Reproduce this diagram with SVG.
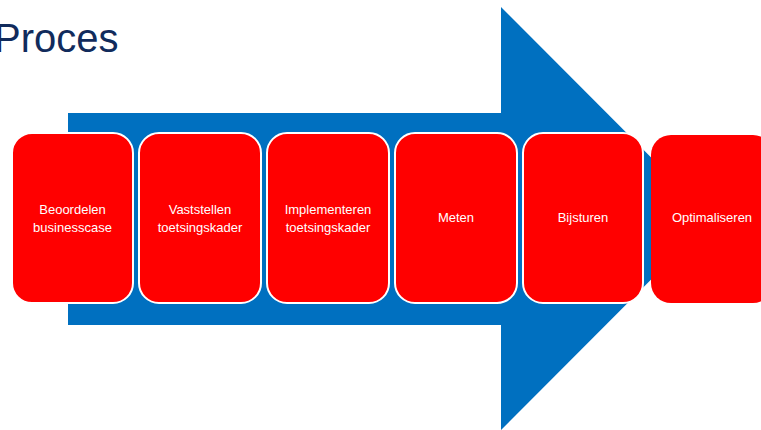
<svg xmlns="http://www.w3.org/2000/svg" width="761" height="430" viewBox="0 0 761 430">
<style>
.box{fill:#FF0000;stroke:#FFFFFF;stroke-width:2}
.t{font-family:"Liberation Sans",Arial,sans-serif;font-size:13px;fill:#FFFFFF;text-anchor:middle}
</style>
<rect width="761" height="430" fill="#FFFFFF"/>
<text x="-6" y="52" font-family="Liberation Sans, Arial, sans-serif" font-size="40" fill="#112B5C">Proces</text>
<g id="connectors">
<polygon id="arrow" points="68,113 501,113 501,7 712,218.5 501,430 501,325 68,325" fill="#0070C0"/>
</g>
<g id="n1"><rect class="box" x="12" y="133" width="121" height="170" rx="20"/><text class="t" x="72.5" y="214">Beoordelen</text><text class="t" x="72.5" y="232">businesscase</text></g>
<g id="n2"><rect class="box" x="139" y="133" width="122" height="170" rx="20"/><text class="t" x="200" y="214">Vaststellen</text><text class="t" x="200" y="232">toetsingskader</text></g>
<g id="n3"><rect class="box" x="267" y="133" width="122" height="170" rx="20"/><text class="t" x="328" y="214">Implementeren</text><text class="t" x="328" y="232">toetsingskader</text></g>
<g id="n4"><rect class="box" x="395" y="133" width="122" height="170" rx="20"/><text class="t" x="456" y="222">Meten</text></g>
<g id="n5"><rect class="box" x="523" y="133" width="120" height="170" rx="20"/><text class="t" x="583" y="222">Bijsturen</text></g>
<g id="n6"><rect x="651" y="135" width="122" height="168" rx="20" fill="#FF0000"/><text class="t" x="712" y="222">Optimaliseren</text></g>
</svg>
